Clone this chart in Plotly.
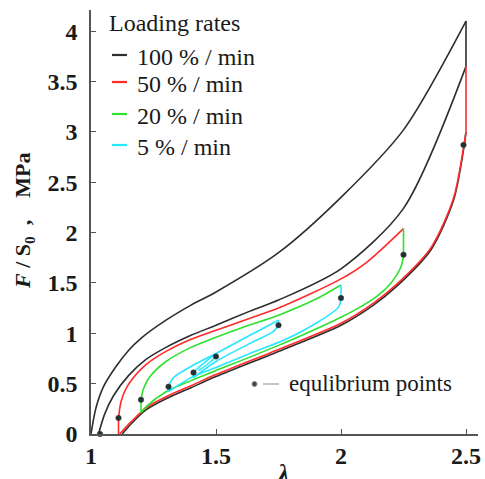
import plotly.graph_objects as go

# ---------------- data ----------------
black_load_x = [1.0, 1.02, 1.05, 1.1, 1.15, 1.2, 1.3, 1.4, 1.5, 1.75, 2.0, 2.25, 2.5]
black_load_y = [0.0, 0.26, 0.47, 0.67, 0.83, 0.95, 1.13, 1.28, 1.41, 1.8, 2.35, 3.02, 4.1]
black_relax_x = [2.5, 2.5]
black_relax_y = [4.1, 3.65]
black_unload_x = [2.5, 2.25, 2.0, 1.75, 1.636, 1.5, 1.4, 1.3, 1.22, 1.15, 1.09, 1.055, 1.03]
black_unload_y = [3.65, 2.24, 1.64, 1.33, 1.22, 1.08, 0.98, 0.86, 0.74, 0.58, 0.38, 0.2, 0.0]
black_low_x = [2.5, 2.49, 2.45, 2.36, 2.22, 2.13, 2.0, 1.75, 1.5, 1.4, 1.3, 1.22, 1.16, 1.125]
black_low_y = [3.0, 2.82, 2.32, 1.83, 1.46, 1.28, 1.08, 0.82, 0.57, 0.46, 0.35, 0.24, 0.1, 0.0]

red_relax_x = [2.5, 2.5]
red_relax_y = [3.65, 3.0]
red_unload_x = [2.5, 2.49, 2.45, 2.36, 2.22, 2.13, 2.0, 1.75, 1.5, 1.4, 1.3, 1.22, 1.16, 1.115]
red_unload_y = [3.0, 2.84, 2.34, 1.85, 1.48, 1.3, 1.1, 0.84, 0.59, 0.48, 0.37, 0.26, 0.12, 0.0]
red_rec_x = [1.11, 1.11]
red_rec_y = [0.0, 0.16]
red_load_x = [1.11, 1.12, 1.14, 1.18, 1.22, 1.3, 1.4, 1.5, 1.636, 1.75, 2.0, 2.1, 2.25]
red_load_y = [0.16, 0.32, 0.45, 0.59, 0.69, 0.82, 0.94, 1.03, 1.15, 1.25, 1.54, 1.7, 2.04]

green_relax_x = [2.25, 2.25]
green_relax_y = [2.04, 1.78]
green_unload_x = [2.25, 2.24, 2.2, 2.15, 2.076, 2.0, 1.75, 1.5, 1.4, 1.3, 1.22, 1.2]
green_unload_y = [1.78, 1.66, 1.5, 1.38, 1.26, 1.16, 0.88, 0.63, 0.53, 0.42, 0.27, 0.21]
green_rec_x = [1.2, 1.2]
green_rec_y = [0.21, 0.34]
green_load_x = [1.2, 1.21, 1.236, 1.3, 1.4, 1.5, 1.62, 1.75, 1.9, 2.0]
green_load_y = [0.34, 0.45, 0.57, 0.72, 0.86, 0.96, 1.07, 1.18, 1.34, 1.48]

cyan_relax1_x = [2.0, 2.0]
cyan_relax1_y = [1.48, 1.35]
cyan_unload1_x = [2.0, 1.99, 1.9, 1.77, 1.636, 1.5, 1.4, 1.31]
cyan_unload1_y = [1.35, 1.26, 1.1, 0.93, 0.8, 0.66, 0.56, 0.42]
cyan_rec1_x = [1.31, 1.31]
cyan_rec1_y = [0.42, 0.48]
cyan_load1_x = [1.31, 1.33, 1.4, 1.5, 1.636, 1.75]
cyan_load1_y = [0.48, 0.56, 0.67, 0.8, 0.98, 1.13]
cyan_relax2_x = [1.75, 1.75]
cyan_relax2_y = [1.13, 1.08]
cyan_unload2_x = [1.75, 1.73, 1.636, 1.5, 1.41]
cyan_unload2_y = [1.08, 1.02, 0.9, 0.72, 0.56]
cyan_rec2_x = [1.41, 1.41]
cyan_rec2_y = [0.56, 0.61]
cyan_load2_x = [1.41, 1.43, 1.47, 1.5]
cyan_load2_y = [0.61, 0.66, 0.74, 0.8]
cyan_relax3_x = [1.5, 1.5]
cyan_relax3_y = [0.8, 0.77]
cyan_unload3_x = [1.5, 1.47, 1.43]
cyan_unload3_y = [0.77, 0.7, 0.63]

eq_x = [1.036, 1.11, 1.2, 1.31, 1.41, 1.5, 1.75, 2.0, 2.25, 2.49]
eq_y = [0.0, 0.16, 0.34, 0.47, 0.61, 0.77, 1.08, 1.35, 1.78, 2.87]

legend_labels = ["100 % / min", "50 % / min", "20 % / min", "5 % / min"]
x_ticks = [1, 1.5, 2, 2.5]
x_tick_text = ["1", "1.5", "2", "2.5"]
y_ticks = [0, 0.5, 1, 1.5, 2, 2.5, 3, 3.5, 4]
y_tick_text = ["0", "0.5", "1", "1.5", "2", "2.5", "3", "3.5", "4"]

BLACK = "#2e2e2e"
RED = "#ff2a2a"
GREEN = "#2fe02f"
CYAN = "#27e6ff"
LW = 1.6
TXT = "#1a1a1a"
SERIF = "Liberation Serif"
NB = "\u00a0"

fig = go.Figure()


def curve(x, y, color, smooth=True):
    fig.add_trace(go.Scatter(
        x=x, y=y, mode="lines",
        line=dict(color=color, width=LW, shape="spline" if smooth else "linear",
                  smoothing=0.8),
        showlegend=False, hoverinfo="skip"))


curve(black_low_x, black_low_y, BLACK)
curve(black_load_x, black_load_y, BLACK)
curve(black_relax_x, black_relax_y, BLACK, False)
curve(black_unload_x, black_unload_y, BLACK)
curve(red_relax_x, red_relax_y, RED, False)
curve(red_unload_x, red_unload_y, RED)
curve(red_rec_x, red_rec_y, RED, False)
curve(red_load_x, red_load_y, RED)
curve(green_relax_x, green_relax_y, GREEN, False)
curve(green_unload_x, green_unload_y, GREEN)
curve(green_rec_x, green_rec_y, GREEN, False)
curve(green_load_x, green_load_y, GREEN)
curve(cyan_relax1_x, cyan_relax1_y, CYAN, False)
curve(cyan_unload1_x, cyan_unload1_y, CYAN)
curve(cyan_rec1_x, cyan_rec1_y, CYAN, False)
curve(cyan_load1_x, cyan_load1_y, CYAN)
curve(cyan_relax2_x, cyan_relax2_y, CYAN, False)
curve(cyan_unload2_x, cyan_unload2_y, CYAN)
curve(cyan_rec2_x, cyan_rec2_y, CYAN, False)
curve(cyan_load2_x, cyan_load2_y, CYAN)
curve(cyan_relax3_x, cyan_relax3_y, CYAN, False)
curve(cyan_unload3_x, cyan_unload3_y, CYAN)

fig.add_trace(go.Scatter(
    x=eq_x, y=eq_y, mode="markers",
    marker=dict(size=5.5, color="#1f3535", line=dict(color="#333", width=0.5)),
    cliponaxis=False, showlegend=False, hoverinfo="skip"))

L, R, T, B = 91, 7, 10, 45
W, H = 485, 479
pw, ph = W - L - R, H - T - B


def px(xp):
    return (xp - L) / pw


def py(yp):
    return (H - B - yp) / ph


annotations = []
shapes = []
annotations.append(dict(x=px(108), y=py(23), xref="paper", yref="paper",
                        text="Loading rates", showarrow=False, xanchor="left",
                        yanchor="middle", borderpad=0,
                        font=dict(family=SERIF, size=24, color=TXT)))
leg_rows = [57, 84, 116, 147]
for lab, col, yy in zip(legend_labels, [BLACK, RED, GREEN, CYAN], leg_rows):
    shapes.append(dict(type="line", xref="paper", yref="paper",
                       x0=px(112), x1=px(127), y0=py(yy - 2), y1=py(yy - 2),
                       line=dict(color=col, width=2.2)))
    annotations.append(dict(x=px(136), y=py(yy), xref="paper", yref="paper",
                            text=lab, showarrow=False, xanchor="left", yanchor="middle",
                            borderpad=0, font=dict(family=SERIF, size=24, color=TXT)))

shapes.append(dict(type="circle", xref="paper", yref="paper",
                   x0=px(252), x1=px(257), y0=py(386.5), y1=py(381.5),
                   line=dict(color="#888", width=1), fillcolor="#444"))
shapes.append(dict(type="line", xref="paper", yref="paper",
                   x0=px(263), x1=px(279), y0=py(384), y1=py(384),
                   line=dict(color="#b0b0b0", width=1.5)))
annotations.append(dict(x=px(288), y=py(383), xref="paper", yref="paper",
                        text="equlibrium points", showarrow=False, xanchor="left",
                        yanchor="middle", borderpad=0,
                        font=dict(family=SERIF, size=23, color=TXT)))

annotations.append(dict(x=px(24), y=py(221), xref="paper", yref="paper",
                        text="<i>F</i> / S<sub>0</sub>" + NB * 2 + "," + NB * 4 + "MPa",
                        textangle=-90, showarrow=False,
                        xanchor="center", yanchor="middle",
                        font=dict(family=SERIF, size=22, color=TXT, weight="bold")))
annotations.append(dict(x=px(283), y=py(458), xref="paper", yref="paper",
                        text="<i>λ</i>", showarrow=False, xanchor="center", yanchor="top",
                        font=dict(family=SERIF, size=25, color=TXT, weight="bold")))

axis_common = dict(showgrid=False, zeroline=False, showline=True, linecolor="#555",
                   linewidth=1.5, ticks="inside", ticklen=5, tickcolor="#555", tickwidth=1.2,
                   automargin=False,
                   tickfont=dict(family=SERIF, size=24, color=TXT, weight="bold"))

fig.update_layout(
    width=W, height=H,
    margin=dict(l=L, r=R, t=T, b=B, pad=0, autoexpand=False),
    paper_bgcolor="white", plot_bgcolor="white",
    xaxis=dict(range=[1, 2.548], tickvals=x_ticks, ticktext=x_tick_text,
               ticklabelstandoff=-1, **axis_common),
    yaxis=dict(range=[0, 4.21], tickvals=y_ticks, ticktext=y_tick_text,
               ticklabelstandoff=7, **axis_common),
    annotations=annotations, shapes=shapes,
    showlegend=False,
)

fig.write_html("out.html", config={"displayModeBar": False},
               post_script="document.body.style.margin='0';document.body.style.overflow='hidden';")
